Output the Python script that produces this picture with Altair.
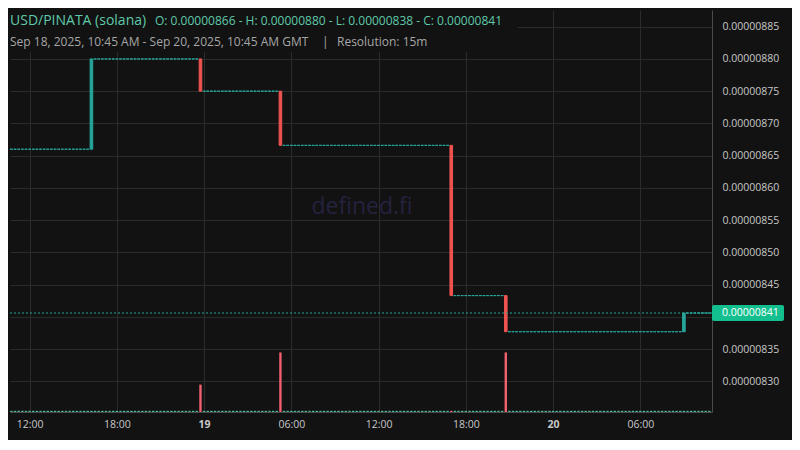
import altair as alt
import pandas as pd

# ---------------- data ----------------
title_text = "USD/PINATA (solana)"
ohlc_text = "O: 0.00000866 - H: 0.00000880 - L: 0.00000838 - C: 0.00000841"
range_text = "Sep 18, 2025, 10:45 AM - Sep 20, 2025, 10:45 AM GMT"
sep_text = "|"
resolution_text = "Resolution: 15m"
watermark_text = "defined.fi"

first_candle = "2025-09-18T10:45:00Z"
last_candle = "2025-09-20T10:45:00Z"
start_price = 8.660e-6
flat_volume = 20

move_times = ["2025-09-18T16:15:00Z", "2025-09-18T23:45:00Z", "2025-09-19T05:15:00Z",
              "2025-09-19T17:00:00Z", "2025-09-19T20:45:00Z", "2025-09-20T09:00:00Z"]
move_open = [8.660e-6, 8.800e-6, 8.750e-6, 8.666e-6, 8.433e-6, 8.377e-6]
move_close = [8.800e-6, 8.750e-6, 8.666e-6, 8.433e-6, 8.377e-6, 8.406e-6]
move_volume = [20, 460, 1000, 20, 1000, 20]

price_ticks = [8.30e-6, 8.35e-6, 8.40e-6, 8.45e-6, 8.50e-6, 8.55e-6,
               8.60e-6, 8.65e-6, 8.70e-6, 8.75e-6, 8.80e-6, 8.85e-6]
time_ticks = ["2025-09-18T12:00:00Z", "2025-09-18T18:00:00Z", "2025-09-19T00:00:00Z",
              "2025-09-19T06:00:00Z", "2025-09-19T12:00:00Z", "2025-09-19T18:00:00Z",
              "2025-09-20T00:00:00Z", "2025-09-20T06:00:00Z"]

# ---------------- build the candle table (price held between moves) ----------------
moves = {pd.Timestamp(t): (o, c, v) for t, o, c, v in zip(move_times, move_open, move_close, move_volume)}
rows = []
price = start_price
for ts in pd.date_range(pd.Timestamp(first_candle), pd.Timestamp(last_candle), freq="15min"):
    if ts in moves:
        o, c, v = moves[ts]
    else:
        o, c, v = price, price, flat_volume
    rows.append({"time": ts.strftime("%Y-%m-%dT%H:%M:%SZ"), "open": o, "close": c, "volume": v})
    price = c
candles = pd.DataFrame(rows)
last_close = candles["close"].iloc[-1]


def dt(s):
    t = pd.Timestamp(s)
    return alt.DateTime(year=t.year, month=t.month, date=t.day, hours=t.hour,
                        minutes=t.minute, utc=True)


UP = "#26a69a"
DOWN = "#ef5350"
BG = "#121212"
GRID = "#2b2b2b"
AXISC = "#4a4a4a"
LABEL = "#c8c8c8"
FONT = "Open Sans"

W, H = 702, 402

xscale = alt.Scale(type="utc", nice=False, padding=0,
                   domain=[dt("2025-09-18T10:39:00Z"), dt("2025-09-20T10:56:00Z")])
yscale = alt.Scale(domain=[8.2525e-6, 8.8759e-6], nice=False, zero=False, padding=0)

xaxis = alt.Axis(
    values=[dt(t) for t in time_ticks],
    labelExpr="utchours(datum.value) == 0 ? toString(utcdate(datum.value)) : utcFormat(datum.value, '%H:%M')",
    labelFontWeight={"condition": {"test": "utchours(datum.value) == 0", "value": "bold"}, "value": "normal"},
    title=None, tickSize=0, labelPadding=7, labelColor=LABEL, labelFontSize=10.5, labelFont=FONT,
    grid=True, gridColor=GRID, domainColor=AXISC, labelFlush=False,
)
# the 0.00000840 label sits under the last-price tag, as in the reference
yaxis = alt.Axis(
    orient="right", values=price_ticks, title=None, tickSize=0, labelPadding=10,
    labelExpr="abs(datum.value - 8.4e-6) < 1e-10 ? '' : format(datum.value, '.8f')",
    labelColor=LABEL, labelFontSize=10.5, labelFont=FONT, grid=True, gridColor=GRID,
    domainColor=AXISC,
)

base = alt.Chart(candles)

volume = base.mark_bar(width=2.4).encode(
    x=alt.X("time:T", scale=xscale, axis=xaxis),
    y=alt.Y("volume:Q", scale=alt.Scale(domain=[0, 6750], padding=0, nice=False), axis=None),
    color=alt.condition("datum.close >= datum.open", alt.value("#4fb7a0"), alt.value("#f0606e")),
)

watermark = alt.Chart(pd.DataFrame({"t": [watermark_text]})).mark_text(
    font=FONT, fontSize=23, color="#24223e", align="center", baseline="middle"
).encode(x=alt.value(352), y=alt.value(197), text="t:N")

bodies = base.mark_bar(width=2.6, strokeWidth=1).encode(
    x=alt.X("time:T", scale=xscale, axis=xaxis),
    y=alt.Y("open:Q", scale=yscale, axis=yaxis),
    y2="close:Q",
    color=alt.condition("datum.close >= datum.open", alt.value(UP), alt.value(DOWN)),
    stroke=alt.condition("datum.close >= datum.open", alt.value(UP), alt.value(DOWN)),
)

last_df = pd.DataFrame({"close": [last_close], "label": [f"{last_close:.8f}"]})

last_line = alt.Chart(last_df).mark_rule(color=UP, strokeWidth=1, strokeDash=[2, 2]).encode(
    y=alt.Y("close:Q", scale=yscale, axis=None), x=alt.value(0), x2=alt.value(W)
)

header_box = alt.Chart(pd.DataFrame({"a": [0]})).mark_rect(color=BG).encode(
    x=alt.value(-2), x2=alt.value(508), y=alt.value(-2), y2=alt.value(42)
)


def text_layer(txt, x, y, size, color):
    return alt.Chart(pd.DataFrame({"t": [txt]})).mark_text(
        font=FONT, fontSize=size, color=color, align="left", baseline="alphabetic"
    ).encode(x=alt.value(x), y=alt.value(y), text="t:N")


t1 = text_layer(title_text, 0, 15, 14, "#5fc9a9")
t2 = text_layer(ohlc_text, 145, 15, 12, "#5fc9a9")
t3 = text_layer(range_text, 0, 35.5, 12, "#a6a6a6")
t4 = text_layer(sep_text, 312, 35.5, 12, "#a6a6a6")
t5 = text_layer(resolution_text, 327, 35.5, 12, "#a6a6a6")

price_box = alt.Chart(last_df).mark_tick(
    orient="horizontal", size=72, thickness=16, color="#14bf8f", opacity=1, cornerRadius=2
).encode(y=alt.Y("close:Q", scale=yscale, axis=None), x=alt.value(738))

price_label = alt.Chart(last_df).mark_text(
    font=FONT, fontSize=10.5, color="#ffffff", align="left", baseline="middle"
).encode(y=alt.Y("close:Q", scale=yscale, axis=None), x=alt.value(712), text="label:N")

chart = alt.layer(
    volume, watermark, bodies, last_line, header_box, t1, t2, t3, t4, t5, price_box, price_label
).resolve_scale(y="independent").properties(
    width=W, height=H,
    autosize=alt.AutoSizeParams(type="none"),
    padding={"left": 2, "top": 2, "right": 80, "bottom": 28},
    background=BG,
).configure_view(stroke=None)

chart.save("out.html", embed_options={"renderer": "svg", "actions": False})
